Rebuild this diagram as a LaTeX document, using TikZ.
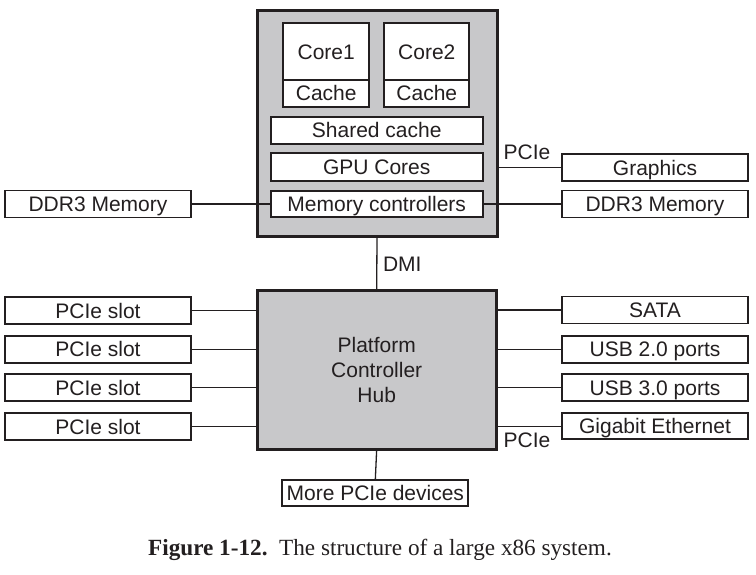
\documentclass[tikz,border=0pt]{standalone}
\usepackage{fontspec}
\setmainfont{Liberation Serif}
\newfontfamily\diagfont{Liberation Sans}
\definecolor{ink}{RGB}{35,31,32}
\definecolor{chipgray}{RGB}{200,200,202}
\begin{document}
\begin{tikzpicture}[x=1pt,y=-1pt,
  every node/.style={inner sep=0pt, outer sep=0pt, text=ink, font=\diagfont\fontsize{21}{25}\selectfont},
  unit/.style={draw=ink, line width=1.8pt, fill=white, align=center, text height=15.2pt, text depth=0pt},
  chip/.style={draw=ink, line width=3pt, fill=chipgray, align=center},
  wire/.style={draw=ink, line width=1.3pt},
  lbl/.style={font=\diagfont\fontsize{21}{25}\selectfont, text height=15.2pt, text depth=0pt}
]
\useasboundingbox (0,0) rectangle (756,575);

% processor package
\node[chip, minimum width=240pt, minimum height=226pt] (cpu) at (377,124) {};

% platform controller hub
\node[chip, minimum width=238.7pt, minimum height=159pt, text depth=0pt] (pch) at (376.7,369.5)
  {Platform\\Controller\\Hub};

% connectors from the processor
\node[unit, minimum width=186pt, minimum height=27pt] (ddrL) at (98,204) {DDR3 Memory};
\node[unit, minimum width=186.6pt, minimum height=27pt] (gfx) at (655,167.5) {Graphics};
\node[unit, minimum width=186.6pt, minimum height=27pt] (ddrR) at (655,204) {DDR3 Memory};

\draw[wire] (ddrL.east) -- (cpu.west |- ddrL.east) -- (ddrR.west);
\draw[wire] (cpu.east |- gfx.west) -- (gfx.west);
\draw[wire] (cpu.south) -- (pch.north);

% processor internals
\node[unit, minimum width=85.7pt, minimum height=56.7pt] (core1) at (326.2,51.7) {Core1};
\node[unit, minimum width=85.7pt, minimum height=26.7pt] (cache1) at (326.2,93.3) {Cache};
\node[unit, minimum width=85pt, minimum height=56.7pt] (core2) at (426.8,51.7) {Core2};
\node[unit, minimum width=85pt, minimum height=26.7pt] (cache2) at (426.8,93.3) {Cache};
\node[unit, minimum width=212pt, minimum height=27.3pt] (shared) at (376.7,130.3) {Shared cache};
\node[unit, minimum width=212pt, minimum height=27.4pt] (gpu) at (376.7,167) {GPU Cores};
\node[unit, minimum width=212pt, minimum height=26.6pt] (memc) at (376.7,204) {Memory controllers};

% devices on the hub
\node[unit, minimum width=186pt, minimum height=27pt] (slot1) at (98,310.5) {PCIe slot};
\node[unit, minimum width=186pt, minimum height=27pt] (slot2) at (98,349.3) {PCIe slot};
\node[unit, minimum width=186pt, minimum height=27pt] (slot3) at (98,387.8) {PCIe slot};
\node[unit, minimum width=186pt, minimum height=27pt] (slot4) at (98,426.7) {PCIe slot};

\node[unit, minimum width=186.6pt, minimum height=27pt] (sata) at (655,310) {SATA};
\node[unit, minimum width=186.6pt, minimum height=27pt] (usb2) at (655,349.2) {USB 2.0 ports};
\node[unit, minimum width=186.6pt, minimum height=27pt] (usb3) at (655,387.5) {USB 3.0 ports};
\node[unit, minimum width=186.6pt, minimum height=26pt] (gbe) at (655,426.2) {Gigabit Ethernet};

\node[unit, minimum width=186pt, minimum height=26pt] (more) at (375.3,493) {More PCIe devices};

\foreach \s in {slot1,slot2,slot3,slot4}
  \draw[wire] (\s.east) -- (\s.east -| pch.west);
\foreach \d in {sata,usb2,usb3,gbe}
  \draw[wire] (pch.east |- \d.west) -- (\d.west);
\draw[wire] (pch.south) -- (more.north);

% bus labels
\node[lbl] (pcieTop) at (527,152) {PCIe};
\node[lbl] (pcieBot) at (527,440) {PCIe};
\node[lbl, anchor=west] (dmi) at (383,264) {DMI};

% caption
\node[anchor=base, font=\fontsize{23.2}{27}\selectfont, text=ink] (caption) at (380,555)
  {\textbf{Figure 1-12.}\hspace{0.5em}The structure of a large x86 system.};
\end{tikzpicture}
\end{document}
